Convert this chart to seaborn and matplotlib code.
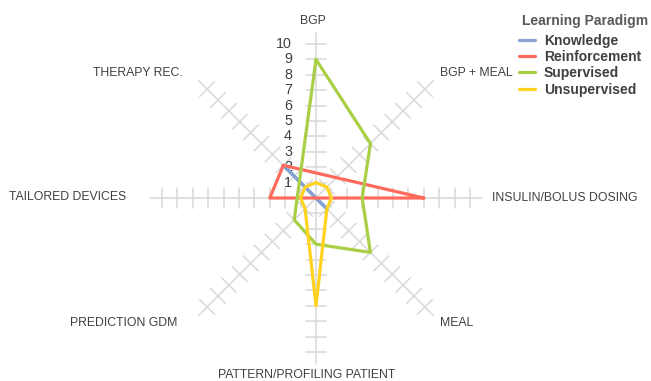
import numpy as np
import pandas as pd
import matplotlib
matplotlib.use("Agg")
import matplotlib.pyplot as plt
import seaborn as sns
from matplotlib.lines import Line2D

sns.set_theme(style="white")
plt.rcParams["font.family"] = ["Liberation Sans", "DejaVu Sans"]

# Categories, clockwise from the top
categories = ["BGP", "BGP + MEAL", "INSULIN/BOLUS DOSING", "MEAL",
              "PATTERN/PROFILING PATIENT", "PREDICTION GDM",
              "TAILORED DEVICES", "THERAPY REC."]

# Number of studies per application area (None = no entry)
knowledge = [None, None, None, 1, None, None, None, 3]
reinforcement = [None, None, 7, None, None, None, 3, 3]
supervised = [9, 5, 3, 5, 3, 2, None, None]
unsupervised = [1, 1, 1, 1, 7, 1, 1, 1]

paradigms = ["Knowledge", "Reinforcement", "Supervised", "Unsupervised"]
series = [knowledge, reinforcement, supervised, unsupervised]
colors = ["#86A3D3", "#FF6A5C", "#A9CF45", "#FFD320"]

tick_values = list(range(1, 11))

# Figure geometry: centre at pixel (316, 198), 15.4 px per unit
W, H = 651, 381
CX, CY, UNIT = 316, 198, 15.4
fig = plt.figure(figsize=(W / 100, H / 100), dpi=100)
ax = fig.add_axes([0, 0, 1, 1])
ax.set_xlim(-CX / UNIT, (W - CX) / UNIT)
ax.set_ylim(-(H - CY) / UNIT, CY / UNIT)
ax.axis("off")


def px(x, y):
    """Pixel position -> data coordinates."""
    return (x - CX) / UNIT, (CY - y) / UNIT


n = len(categories)
angles = np.arange(n) * 2 * np.pi / n  # clockwise from north
grid_col = "#D9D9D9"
text_col = "#404040"
spoke_len = 10.8
half_tick = 0.68

# Spokes with perpendicular tick crosses
for a in angles:
    ux, uy = np.sin(a), np.cos(a)
    ax.plot([0, spoke_len * ux], [0, spoke_len * uy], color=grid_col, lw=1.1, zorder=1)
    nx, ny = -uy, ux
    for t in tick_values:
        cxp, cyp = t * ux, t * uy
        ax.plot([cxp - half_tick * nx, cxp + half_tick * nx],
                [cyp - half_tick * ny, cyp + half_tick * ny],
                color=grid_col, lw=1.1, zorder=1)

# Radial value labels on the top spoke
x_num, _ = px(292, 0)
for t in tick_values:
    ax.text(x_num, t, str(t), ha="right", va="center", fontsize=10.3,
            color=text_col, zorder=2)

# Series polygons, skipping empty entries
rows = []
for name, vals in zip(paradigms, series):
    pts = [(a, v) for a, v in zip(angles, vals) if v is not None]
    pts.append(pts[0])
    for i, (a, v) in enumerate(pts):
        rows.append({"paradigm": name, "order": i,
                     "x": v * np.sin(a), "y": v * np.cos(a)})
df = pd.DataFrame(rows)

for name, col in zip(paradigms, colors):
    sub = df[df["paradigm"] == name]
    sns.lineplot(data=sub, x="x", y="y", sort=False, estimator=None,
                 color=col, lw=2.3, ax=ax, zorder=3, legend=False)
ax.set_xlabel("")
ax.set_ylabel("")
ax.axis("off")

# Category labels
label_pos = {
    "BGP": (312.5, 20.5, "center"),
    "BGP + MEAL": (476.5, 72.5, "center"),
    "INSULIN/BOLUS DOSING": (492.5, 198.0, "left"),
    "MEAL": (456.5, 323.0, "center"),
    "PATTERN/PROFILING PATIENT": (306.5, 375.0, "center"),
    "PREDICTION GDM": (123.5, 323.0, "center"),
    "TAILORED DEVICES": (126.5, 197.5, "right"),
    "THERAPY REC.": (137.5, 73.5, "center"),
}
for cat in categories:
    x, y, ha = label_pos[cat]
    dx, dy = px(x, y)
    ax.text(dx, dy, cat, ha=ha, va="center", fontsize=8.8, color=text_col)

# Legend title and entries
fig.text(585 / W, 1 - 20.7 / H, "Learning Paradigm", ha="center", va="center",
         fontsize=10, fontweight="bold", color="#595959")
handles = [Line2D([0], [0], color=c, lw=2.3) for c in colors]
leg = fig.legend(handles, paradigms, loc="upper left",
                 bbox_to_anchor=(519 / W, 1 - 33.5 / H),
                 frameon=False, fontsize=10, handlelength=1.15,
                 handletextpad=0.65, labelspacing=0.17, borderpad=0.0,
                 borderaxespad=0.0)
for txt in leg.get_texts():
    txt.set_fontweight("bold")
    txt.set_color(text_col)

fig.savefig("out.png", dpi=100)
